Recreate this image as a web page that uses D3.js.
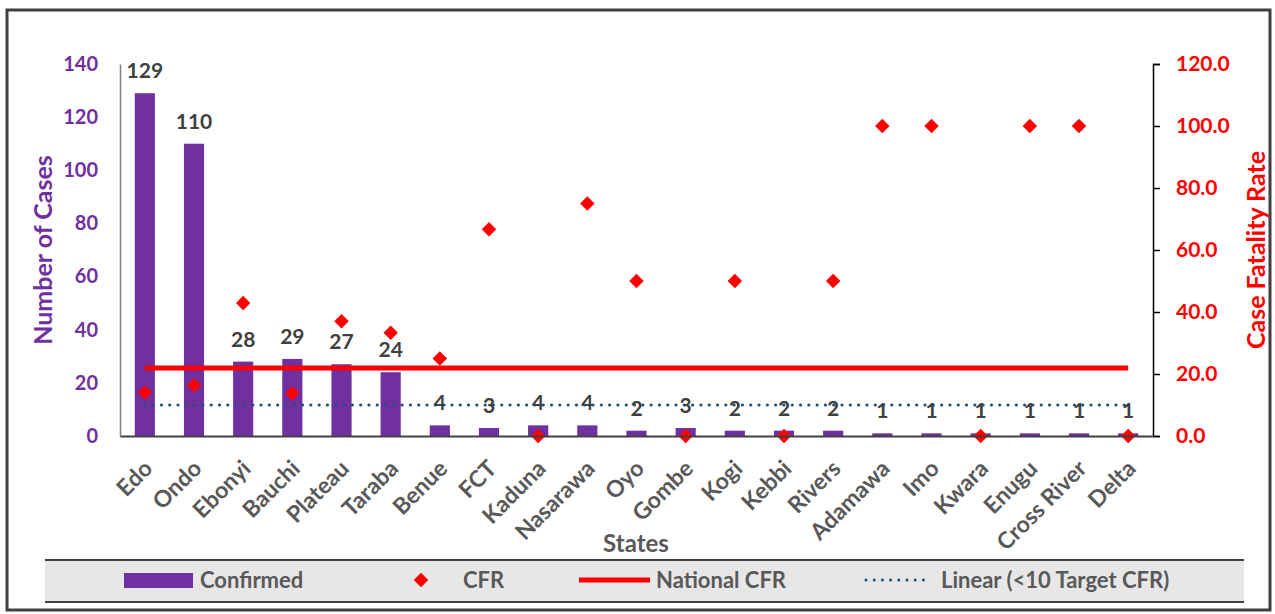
<!DOCTYPE html>
<html>
<head>
<meta charset="utf-8">
<script src="https://cdn.jsdelivr.net/npm/d3@7"></script>
<style>
  body { margin: 0; background: #fff; }
  text { font-family: Lato, "Open Sans", sans-serif; font-weight: bold; }
</style>
</head>
<body>
<script>
var states = ["Edo", "Ondo", "Ebonyi", "Bauchi", "Plateau", "Taraba", "Benue", "FCT", "Kaduna", "Nasarawa",
  "Oyo", "Gombe", "Kogi", "Kebbi", "Rivers", "Adamawa", "Imo", "Kwara", "Enugu", "Cross River", "Delta"];
var confirmed = [129, 110, 28, 29, 27, 24, 4, 3, 4, 4, 2, 3, 2, 2, 2, 1, 1, 1, 1, 1, 1];
var cfr = [14.0, 16.4, 42.9, 13.8, 37.0, 33.3, 25.0, 66.7, 0, 75.0, 50.0, 0, 50.0, 0, 50.0, 100, 100, 0, 100, 100, 0];
var nationalCFR = 21.9;
var targetCFR = 10;
var leftTicks = [0, 20, 40, 60, 80, 100, 120, 140];
var rightTicks = [0, 20, 40, 60, 80, 100, 120];

var W = 1275, H = 614;
var mLeft = 120, mRight = 1153, mTop = 64, mBottom = 436;
var purple = "#7030a0", red = "#ff0000", grey = "#595959", dark = "#404040", navy = "#1f4e79";

var svg = d3.select("body").append("svg").attr("width", W).attr("height", H);

// outer frame
svg.append("rect").attr("x", 7).attr("y", 10).attr("width", 1263).attr("height", 600)
  .attr("fill", "none").attr("stroke", dark).attr("stroke-width", 3);

var x = d3.scaleBand().domain(states).range([mLeft, mRight]).paddingInner(0.59).paddingOuter(0.3);
var yL = d3.scaleLinear().domain([0, 140]).range([mBottom, mTop]);
var yR = d3.scaleLinear().domain([0, 120]).range([mBottom, mTop]);
var cx = function(s) { return x(s) + x.bandwidth() / 2; };

// bars
svg.selectAll(".bar").data(states).enter().append("rect")
  .attr("class", "bar")
  .attr("x", function(d) { return x(d); })
  .attr("y", function(d, i) { return yL(confirmed[i]); })
  .attr("width", x.bandwidth())
  .attr("height", function(d, i) { return mBottom - yL(confirmed[i]); })
  .attr("fill", purple);

// bar labels
svg.selectAll(".blab").data(states).enter().append("text")
  .attr("x", function(d) { return cx(d); })
  .attr("y", function(d, i) { return Math.min(yL(confirmed[i]) - 15, 421); })
  .attr("text-anchor", "middle").attr("font-size", 21).attr("fill", dark)
  .text(function(d, i) { return confirmed[i]; });

// target line (dotted)
svg.append("line")
  .attr("x1", cx(states[0])).attr("x2", cx(states[states.length - 1]))
  .attr("y1", yR(targetCFR)).attr("y2", yR(targetCFR))
  .attr("stroke", navy).attr("stroke-width", 3.2).attr("stroke-dasharray", "0 8.3")
  .attr("stroke-linecap", "round");

// national CFR line
svg.append("line")
  .attr("x1", cx(states[0])).attr("x2", cx(states[states.length - 1]))
  .attr("y1", yR(nationalCFR)).attr("y2", yR(nationalCFR))
  .attr("stroke", red).attr("stroke-width", 5);

// CFR diamonds
var diamond = d3.symbol().type(d3.symbolSquare).size(105);
svg.selectAll(".cfr").data(states).enter().append("path")
  .attr("d", diamond)
  .attr("transform", function(d, i) { return "translate(" + cx(d) + "," + yR(cfr[i]) + ") rotate(45)"; })
  .attr("fill", red);

// left axis
var gL = svg.append("g").attr("transform", "translate(" + mLeft + ",0)")
  .call(d3.axisLeft(yL).tickValues(leftTicks).tickSize(0).tickPadding(22));
gL.select(".domain").attr("stroke", "#7f7f7f").attr("stroke-width", 1.5);
gL.selectAll("text").attr("font-size", 20).attr("fill", purple).attr("font-family", "Lato, sans-serif").attr("font-weight", "bold");

// right axis
var gR = svg.append("g").attr("transform", "translate(" + mRight + ",0)")
  .call(d3.axisRight(yR).tickValues(rightTicks).tickSize(7).tickPadding(16).tickFormat(d3.format(".1f")));
gR.select(".domain").attr("stroke", "#000").attr("stroke-width", 1.5);
gR.selectAll(".tick line").attr("stroke", "#000").attr("stroke-width", 1.5);
gR.selectAll("text").attr("font-size", 21).attr("fill", red).attr("font-family", "Lato, sans-serif").attr("font-weight", "bold");

// x axis
var gX = svg.append("g").attr("transform", "translate(0," + mBottom + ")")
  .call(d3.axisBottom(x).tickSize(0).tickPadding(0));
gX.select(".domain").attr("stroke", dark).attr("stroke-width", 2);
gX.selectAll("text")
  .attr("font-size", 23).attr("fill", grey).attr("font-family", "Lato, sans-serif").attr("font-weight", "bold")
  .attr("text-anchor", "end").attr("dy", 0).attr("dx", 0)
  .attr("transform", "translate(9,34) rotate(-45)");

// axis titles
svg.append("text").attr("transform", "translate(52,250) rotate(-90)")
  .attr("text-anchor", "middle").attr("font-size", 25).attr("fill", purple).text("Number of Cases");
svg.append("text").attr("transform", "translate(1265,250) rotate(-90)")
  .attr("text-anchor", "middle").attr("font-size", 25).attr("fill", red).text("Case Fatality Rate");
svg.append("text").attr("x", 636).attr("y", 552)
  .attr("text-anchor", "middle").attr("font-size", 24).attr("fill", grey).text("States");

// legend
var lg = svg.append("g");
lg.append("rect").attr("x", 45).attr("y", 560).attr("width", 1199).attr("height", 42).attr("fill", "#e7e7e7");
lg.append("line").attr("x1", 45).attr("x2", 1244).attr("y1", 560).attr("y2", 560).attr("stroke", dark).attr("stroke-width", 2);
lg.append("line").attr("x1", 45).attr("x2", 1244).attr("y1", 602).attr("y2", 602).attr("stroke", dark).attr("stroke-width", 2);
lg.append("rect").attr("x", 124).attr("y", 573).attr("width", 69).attr("height", 15).attr("fill", purple);
lg.append("path").attr("d", d3.symbol().type(d3.symbolSquare).size(105))
  .attr("transform", "translate(421,580) rotate(45)").attr("fill", red);
lg.append("line").attr("x1", 579).attr("x2", 650).attr("y1", 580).attr("y2", 580).attr("stroke", red).attr("stroke-width", 5);
lg.append("line").attr("x1", 866).attr("x2", 928).attr("y1", 580).attr("y2", 580)
  .attr("stroke", navy).attr("stroke-width", 3).attr("stroke-dasharray", "0 8.2").attr("stroke-linecap", "round");
var legendText = [["Confirmed", 200], ["CFR", 463], ["National CFR", 656], ["Linear (<10 Target CFR)", 941]];
lg.selectAll(".lt").data(legendText).enter().append("text")
  .attr("x", function(d) { return d[1]; }).attr("y", 588)
  .attr("font-size", 22).attr("fill", grey).text(function(d) { return d[0]; });
</script>
</body>
</html>
